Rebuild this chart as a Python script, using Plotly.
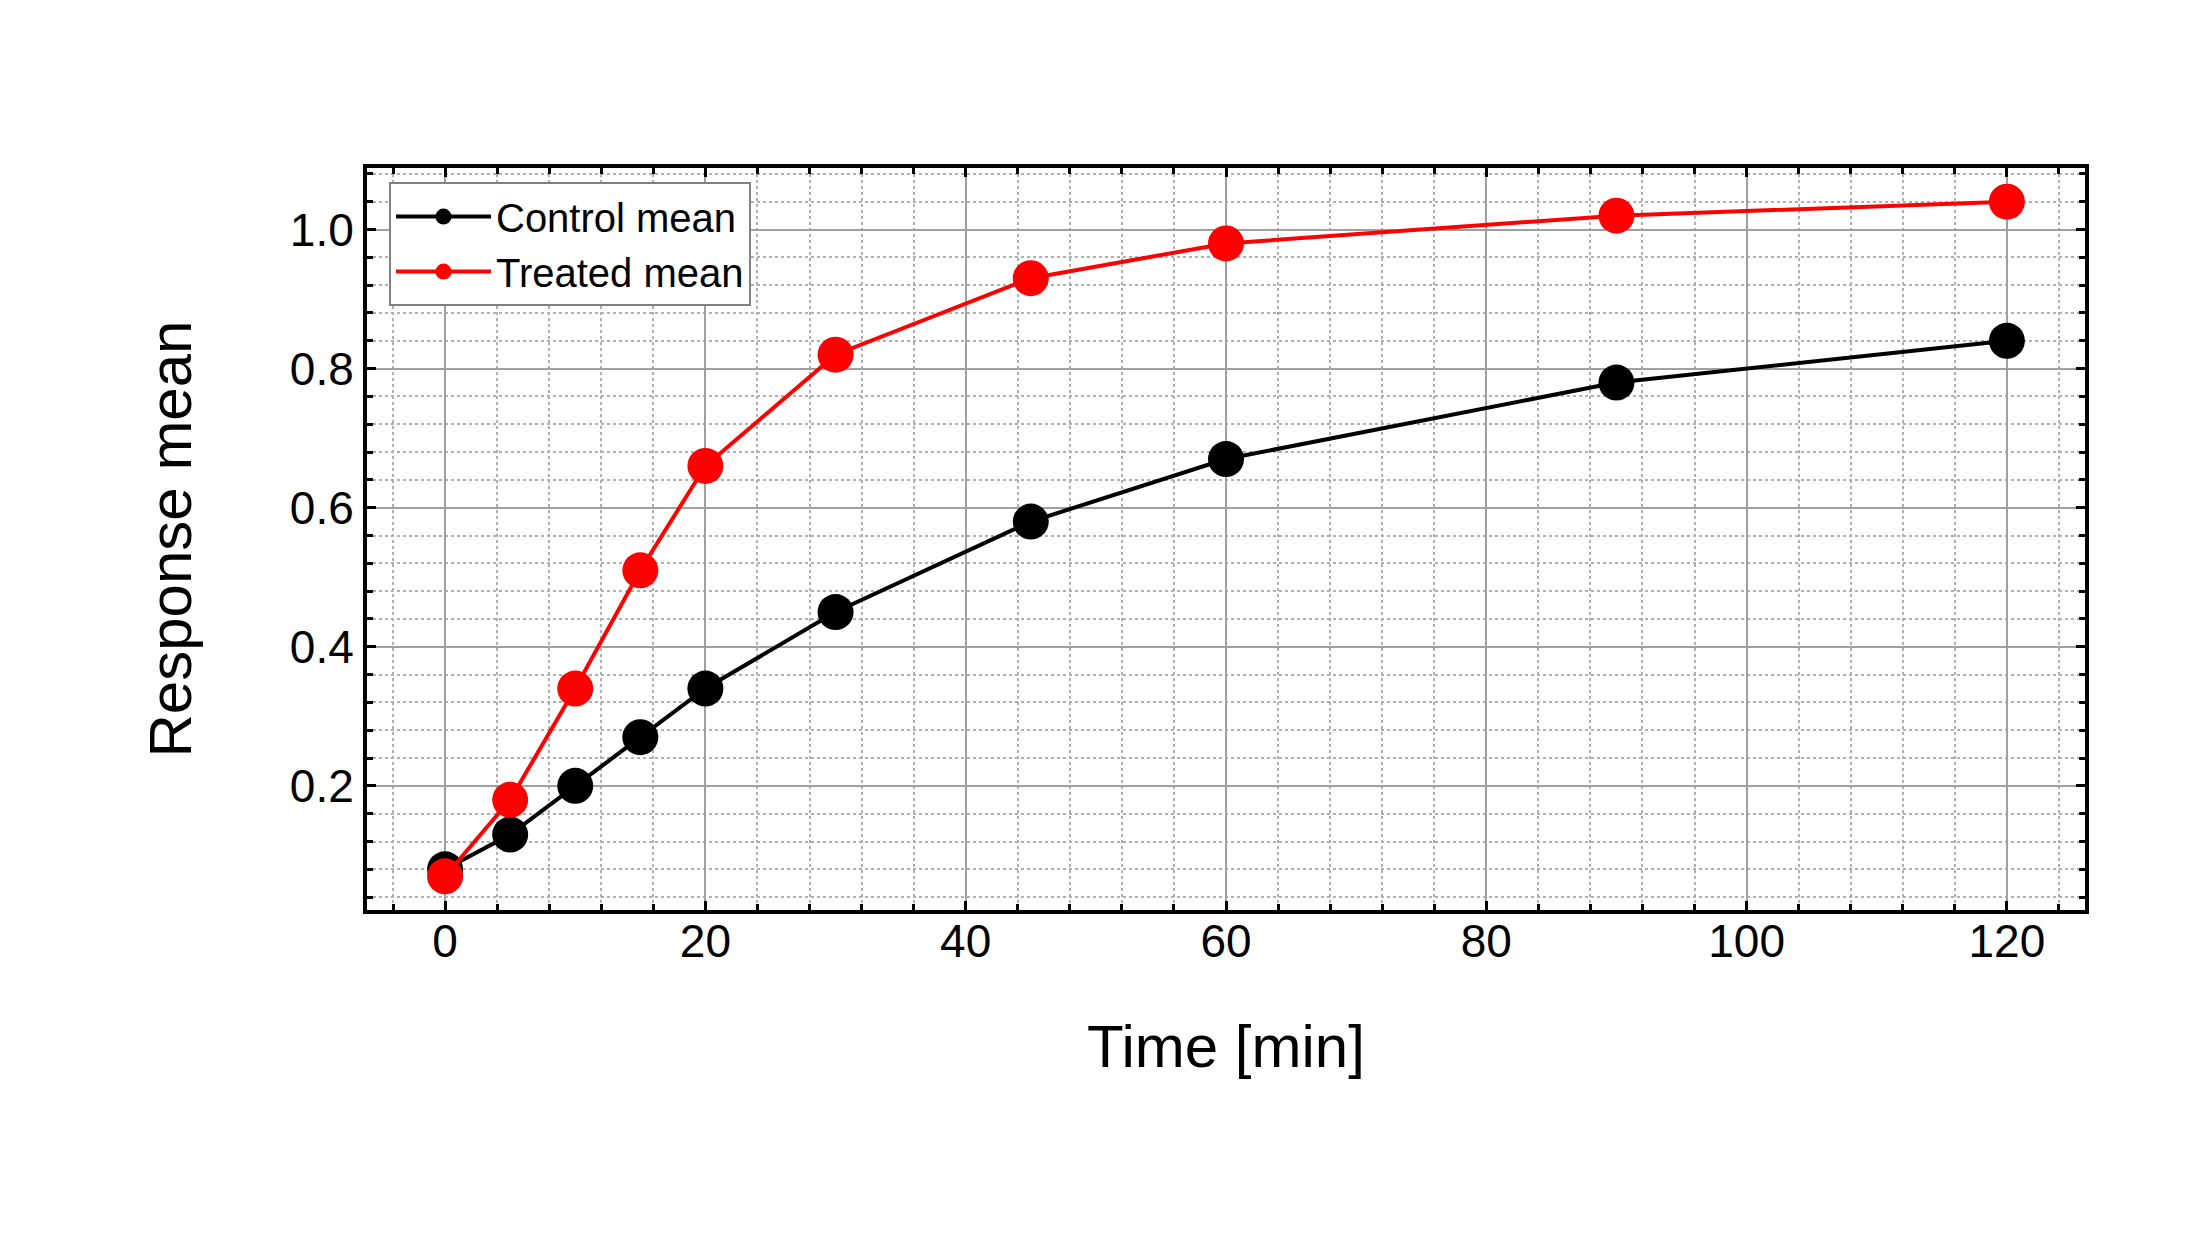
import plotly.graph_objects as go

time_min = [0, 5, 10, 15, 20, 30, 45, 60, 90, 120]
control_mean = [0.08, 0.13, 0.20, 0.27, 0.34, 0.45, 0.58, 0.67, 0.78, 0.84]
treated_mean = [0.07, 0.18, 0.34, 0.51, 0.66, 0.82, 0.93, 0.98, 1.02, 1.04]
x_ticks = [0, 20, 40, 60, 80, 100, 120]
y_ticks = [0.2, 0.4, 0.6, 0.8, 1.0]
y_ticklabels = ["0.2", "0.4", "0.6", "0.8", "1.0"]

FONT = "Liberation Sans, Arial, sans-serif"

fig = go.Figure()
fig.add_trace(go.Scatter(x=time_min, y=control_mean, mode="lines+markers", name="Control mean",
                         line=dict(color="black", width=4), marker=dict(color="black", size=36)))
fig.add_trace(go.Scatter(x=time_min, y=treated_mean, mode="lines+markers", name="Treated mean",
                         line=dict(color="#ff0000", width=4), marker=dict(color="#ff0000", size=36)))

axis_common = dict(
    showline=True, linecolor="black", linewidth=4, mirror="allticks",
    ticks="inside", ticklen=9, tickwidth=3, tickcolor="black",
    showgrid=True, gridcolor="#a0a0a0", gridwidth=2,
    zeroline=False,
    tickfont=dict(family=FONT, size=46, color="black"),
)

fig.update_xaxes(
    range=[-6, 126], tickvals=x_ticks, ticklabelstandoff=-12,
    minor=dict(dtick=4, tick0=0, ticks="inside", ticklen=6, tickwidth=2.5, tickcolor="black",
               showgrid=True, gridcolor="#b0b0b0", griddash="dot", gridwidth=1.5),
    title=dict(text="Time [min]", font=dict(family=FONT, size=60, color="black"), standoff=60),
    **axis_common,
)
fig.update_yaxes(
    range=[0.0215, 1.0885], tickvals=y_ticks, ticktext=y_ticklabels,
    minor=dict(dtick=0.04, tick0=0, ticks="inside", ticklen=6, tickwidth=2.5, tickcolor="black",
               showgrid=True, gridcolor="#b0b0b0", griddash="dot", gridwidth=1.5),
    title=dict(text="Response mean", font=dict(family=FONT, size=60, color="black"), standoff=80),
    **axis_common,
)

fig.update_layout(
    width=2212, height=1244,
    margin=dict(l=367, r=127, t=168, b=334, autoexpand=False),
    paper_bgcolor="white", plot_bgcolor="white",
    font=dict(family=FONT, color="black"),
    legend=dict(x=0.0128, y=0.981, xanchor="left", yanchor="top",
                bgcolor="white", bordercolor="#808080", borderwidth=2,
                font=dict(family=FONT, size=40, color="black"),
                itemwidth=95, tracegroupgap=0),
    showlegend=True,
)

fig.write_html("out.html")
